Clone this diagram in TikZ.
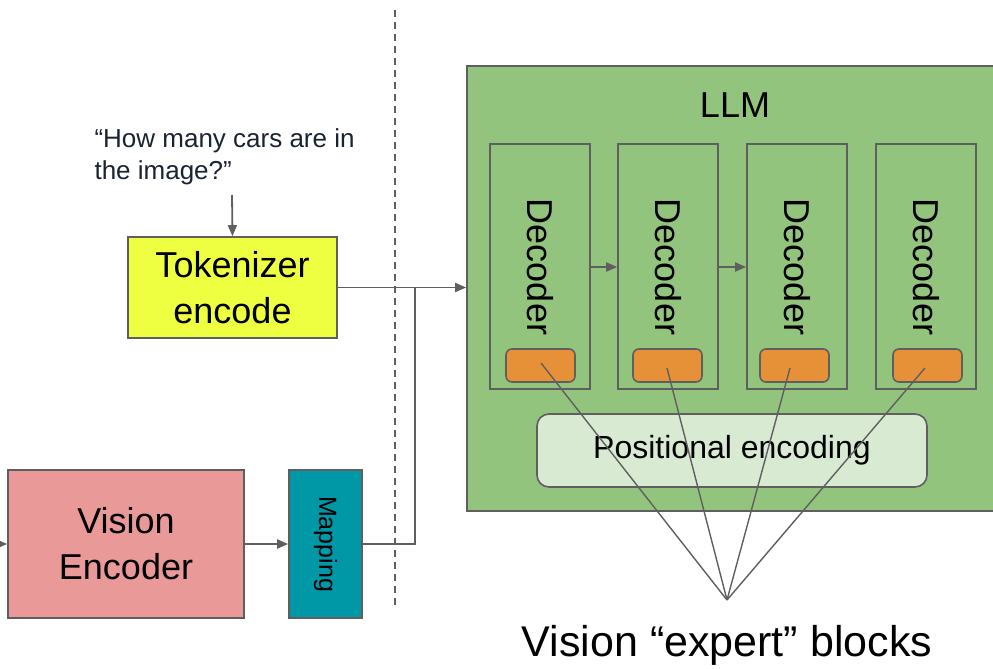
\documentclass[tikz,border=0pt]{standalone}
\usepackage{fontspec}
\setmainfont{Liberation Sans}
\usetikzlibrary{arrows.meta}
\definecolor{edgegray}{HTML}{5F5F5F}
\definecolor{tokyellow}{HTML}{EEFF41}
\definecolor{vispink}{HTML}{EA9999}
\definecolor{mapteal}{HTML}{0097A7}
\definecolor{llmgreen}{HTML}{93C47D}
\definecolor{expertorange}{HTML}{E69138}
\definecolor{posgreen}{HTML}{D9EAD3}
\definecolor{quotenavy}{HTML}{1A2332}
\begin{document}
\begin{tikzpicture}[x=1pt,y=-1pt,
  box/.style={draw=edgegray,line width=1.6pt,inner sep=0pt,align=center},
  flow/.style={draw=edgegray,line width=1.8pt,-{Triangle[length=11pt,width=9pt]}},
  wire/.style={draw=edgegray,line width=1.8pt},
  decbox/.style={box,fill=llmgreen,minimum width=100pt,minimum height=245pt},
  expert/.style={box,fill=expertorange,rounded corners=6pt,minimum width=69pt,minimum height=33pt},
  dectext/.style={font=\fontsize{36}{40}\selectfont,rotate=-90}]
\useasboundingbox (0,0) rectangle (993,669);

% separator between the input side and the model
\draw[edgegray,line width=1.5pt,dash pattern=on 7pt off 5pt] (395,10) -- (395,605);

% text input
\node[anchor=base west,align=left,text=quotenavy,font=\fontsize{26}{32}\selectfont]
  (question) at (91,179) {“How many cars are in\\the image?”};
\coordinate (qout) at (232,195);
\node[box,fill=tokyellow,minimum width=209pt,minimum height=101pt,
  font=\fontsize{36}{46}\selectfont] (tok) at (232.5,287.5) {Tokenizer\\encode};

% image input
\node[box,fill=vispink,minimum width=236pt,minimum height=148pt,
  font=\fontsize{36}{46}\selectfont] (vis) at (126,544) {Vision\\Encoder};
\node[box,fill=mapteal,minimum width=73pt,minimum height=148pt] (map) at (325.5,544) {};
\node[rotate=-90,font=\fontsize{25}{28}\selectfont] (maplabel) at (map.center) {Mapping};
\coordinate (imgin) at (-20,544);

% LLM
\node[box,fill=llmgreen,minimum width=528pt,minimum height=445pt] (llm) at (731,288.5) {};
\node[font=\fontsize{36}{40}\selectfont] (llmlabel) at (735,105) {LLM};

\node[decbox] (d1) at (540,266.5) {};
\node[decbox] (d2) at (668,266.5) {};
\node[decbox] (d3) at (797,266.5) {};
\node[decbox] (d4) at (926,266.5) {};
\foreach \i in {1,...,4}{
  \node[dectext] (dl\i) at (d\i.center |- 0,267) {Decoder};
}

\node[expert] (e1) at (540.5,365.5) {};
\node[expert] (e2) at (667.5,365.5) {};
\node[expert] (e3) at (794.5,365.5) {};
\node[expert] (e4) at (927.5,365.5) {};

\node[box,fill=posgreen,rounded corners=12pt,minimum width=390pt,minimum height=73pt,
  font=\fontsize{32}{36}\selectfont] (pos) at (732,450.5) {Positional encoding};

% connectors
\coordinate (jn) at (415,288);
\draw[flow] (qout) -- (tok.north);
\draw[flow] (tok.east) -- (llm.west |- tok.east);
\draw[wire] (map.east) -| (jn);
\draw[flow] (imgin) -- (vis.west);
\draw[flow] (vis.east) -- (map.west);
\draw[flow] (d1.east |- 0,267) -- (d2.west |- 0,267);
\draw[flow] (d2.east |- 0,267) -- (d3.west |- 0,267);

% expert blocks
\node[font=\fontsize{43}{48}\selectfont] (expertlabel) at (727,645) {Vision “expert” blocks};
\coordinate (apex) at (727,600);
\draw[wire,line width=1.4pt] (541,363) -- (apex);
\draw[wire,line width=1.4pt] (667,368) -- (apex);
\draw[wire,line width=1.4pt] (790,368) -- (apex);
\draw[wire,line width=1.4pt] (925,368) -- (apex);
\end{tikzpicture}
\end{document}
